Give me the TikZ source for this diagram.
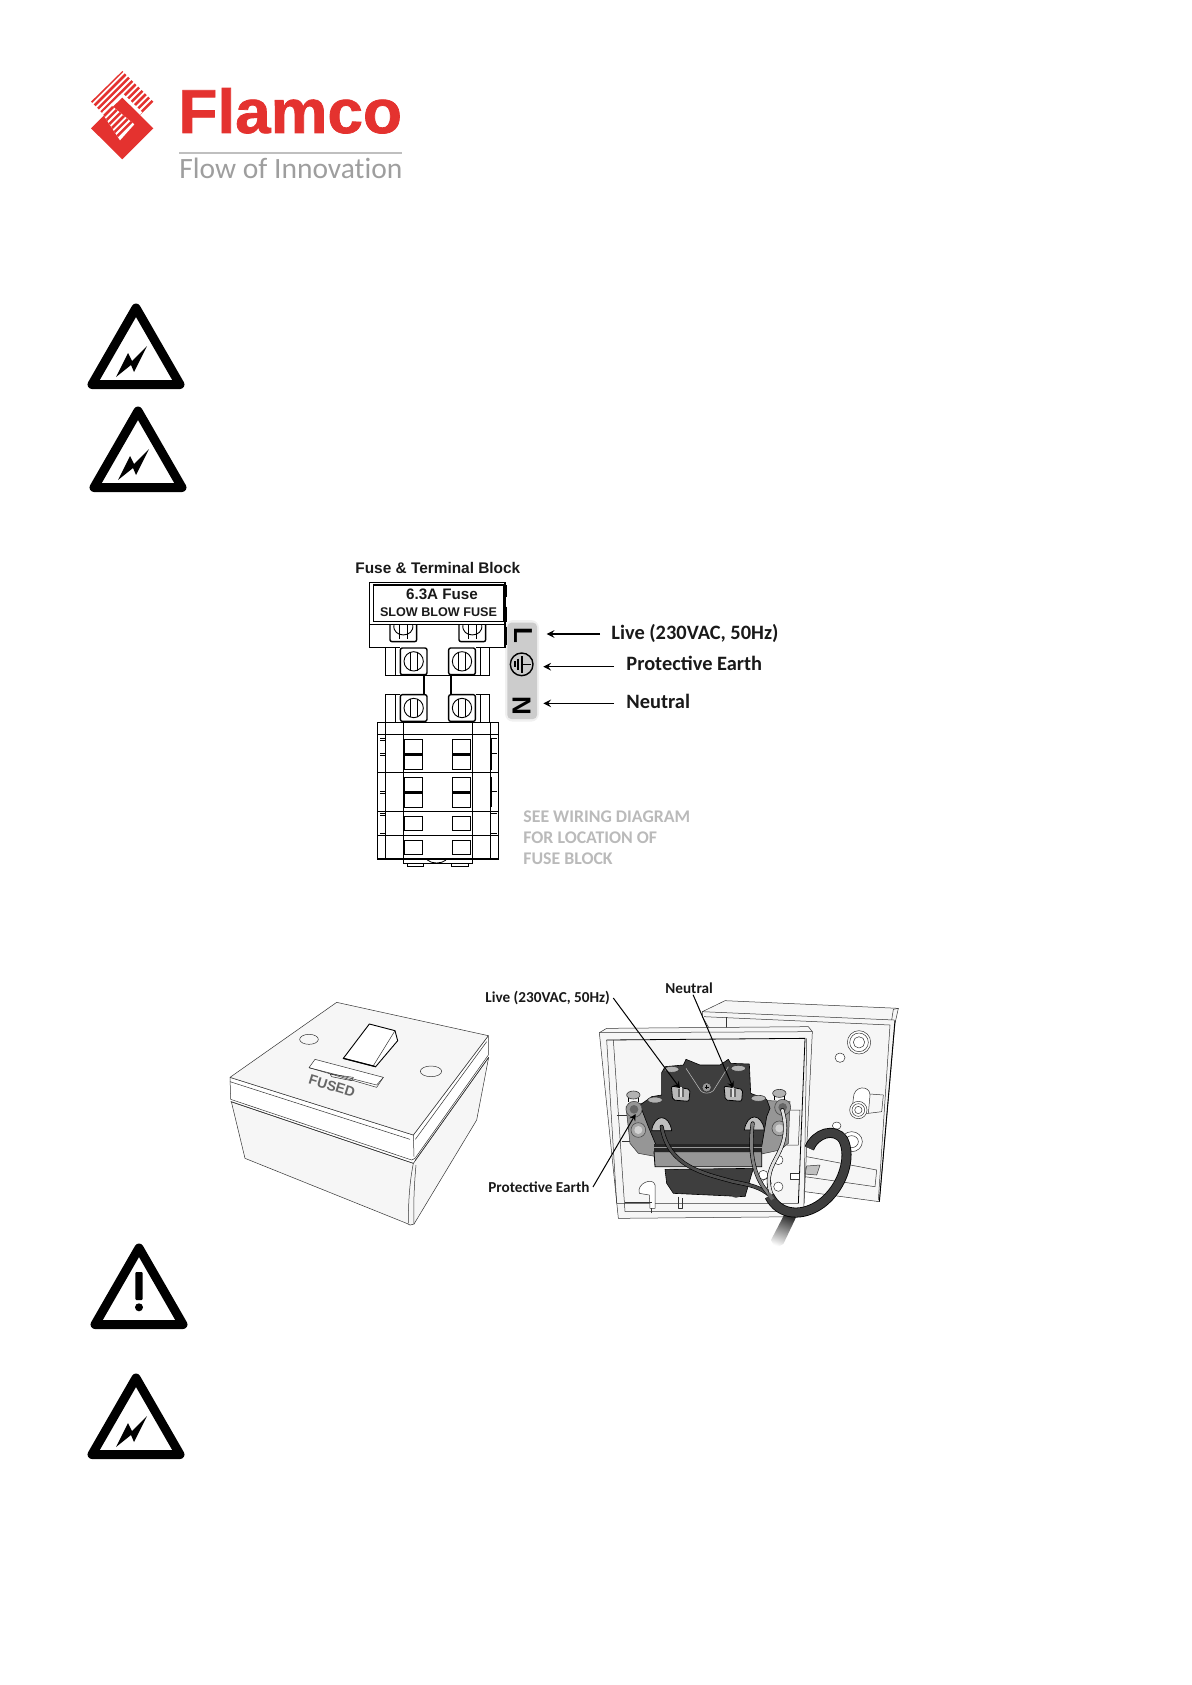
\documentclass[tikz,border=0pt]{standalone}
\usepackage{fontspec}
\usepackage{tikz}
\usetikzlibrary{arrows, calc, positioning}
\newfontfamily\lblfont{Carlito}
\newfontfamily\thinfont[Ligatures=NoCommon]{Carlito}
\newfontfamily\arialfont{Liberation Sans}
\newfontfamily\brandfont[BoldFeatures={FakeBold=1.2}]{Liberation Sans}
\definecolor{flamred}{RGB}{228,50,47}
\definecolor{bodydark}{RGB}{62,62,62}
\definecolor{facelight}{RGB}{246,246,246}
\definecolor{midgray}{RGB}{150,150,150}

\tikzset{
  zoomed/.style={x=0.16667pt, y=-0.16667pt},
  line3d/.style={draw=black!80, line width=0.25pt, line join=round},
  callout/.style={font=\lblfont\bfseries\fontsize{10.2}{12}\selectfont, inner sep=0pt, text=black!90},
  smallcall/.style={font=\lblfont\bfseries\fontsize{7.6}{9}\selectfont, inner sep=0pt, text=black!90},
  wirearrow/.style={->, >=stealth, line width=0.7pt},
  leader/.style={->, >=stealth, line width=0.5pt},
  wireline/.style={draw=black, line width=0.3pt, double distance=1.4pt, line cap=round, line join=round},
  warnline/.style={line width=4.5pt, line join=round}
}
\newcommand{\screwbox}[2]{% screw seen from the front, zoom coordinates
  \draw[line width=0.7pt, rounded corners=1pt] (#1-40,#2-40) rectangle (#1+40,#2+40);
  \draw[line width=0.45pt] (#1,#2) circle [radius=29];
  \draw[line width=0.45pt] (#1-11,#2-28) -- (#1-11,#2+28) (#1+11,#2-28) -- (#1+11,#2+28);
}
\newcommand{\ringpost}[2]{% ring of a terminal post, zoom coordinates
  \fill[midgray, draw=black!70, line width=0.3pt] (#1,#2) circle [radius=24];
  \fill[black!60] (#1,#2) circle [radius=13];
}

\begin{document}
\begin{tikzpicture}[x=0.5pt, y=-0.5pt]
\useasboundingbox (0,0) rectangle (1192,1685);

% Logo
\begin{scope}[shift={(85,65)}, zoomed]
  \begin{scope}
    \clip (112,18) -- (205,110) -- (112,205) -- (18,110) -- cycle;
    \foreach \c in {130,150,...,330}
      \draw[flamred, line width=1.25pt] (\c,0) -- (0,\c);
  \end{scope}
  \fill[white] (112,84) -- (172,142) -- (112,205) -- (52,142) -- cycle;
  \fill[flamred] (112,98) -- (205,190) -- (112,283) -- (18,190) -- (68,140) -- cycle;
  \begin{scope}
    \clip (80,122) -- (148,178) -- (105,226) -- (52,145) -- cycle;
    \fill[white] (40,100) rectangle (170,240);
    \foreach \c in {190,210,...,310}
      \draw[flamred, line width=1.25pt] (\c,0) -- (0,\c);
  \end{scope}
\end{scope}
\node[font=\brandfont\bfseries\fontsize{31}{31}\selectfont, text=flamred, anchor=base west, inner sep=0pt, xscale=1.03] (brandName) at (178,133) {Flamco};
\draw[black!25, line width=0.6pt] (179,153) -- (402,153);
\node[font=\thinfont\fontsize{14.75}{15}\selectfont, text=black!38, anchor=base west, inner sep=0pt] (brandLine) at (179,179) {Flow of Innovation};

% Warning triangles
\foreach \tx/\ty in {136/304, 138/407, 136/1374, 139/1244}
  \draw[warnline] (\tx,\ty+4) -- (\tx+44,\ty+80.5) -- (\tx-44,\ty+80.5) -- cycle;
\foreach \tx/\ty in {136/304, 138/407, 136/1374}
  \fill (\tx-20,\ty+73) -- (\tx-8,\ty+49) -- (\tx-4,\ty+57) -- (\tx+11,\ty+42) -- (\tx-2,\ty+68) -- (\tx-5,\ty+61) -- cycle;
\fill[rounded corners=0.5pt] (135.3,1272) rectangle (142.7,1300);
\fill (139,1307.3) circle [radius=4];

% Fuse and terminal block
\begin{scope}[shift={(340,550)}, zoomed]
  \fill[gray!12, rounded corners=4pt] (495,210) rectangle (597,515);
  \fill[gray!40, rounded corners=2pt] (502,218) rectangle (591,507);
  % fuse holder
  \draw[line width=0.7pt] (88,97) rectangle (495,292);
  \draw[line width=0.6pt] (100,105) rectangle (490,215);
  \draw[line width=0.5pt] (88,222) -- (495,222);
  \draw[line width=1pt] (497,105) -- (497,140) (497,170) -- (497,215) (497,230) -- (497,285);
  \foreach \sx in {190,397}{
    \draw[line width=0.7pt, rounded corners=1pt] (\sx-40,222) -- (\sx-40,275) -- (\sx+40,275) -- (\sx+40,222);
    \draw[line width=0.45pt] (\sx-28,224) .. controls (\sx-35,265) and (\sx+35,265) .. (\sx+28,224);
    \draw[line width=0.45pt] (\sx-11,224) -- (\sx-11,268) (\sx+11,224) -- (\sx+11,268);
  }
  % screw rows
  \foreach \ry in {334,474}{
    \draw[line width=0.5pt] (135,\ry-42) rectangle (448,\ry+42);
    \fill[white] (180,\ry-42) rectangle (408,\ry+42);
    \draw[line width=0.5pt] (165,\ry-42) -- (165,\ry+42) (420,\ry-42) -- (420,\ry+42);
    \screwbox{221}{\ry}
    \screwbox{366}{\ry}
  }
  \draw[line width=0.6pt] (252,376) -- (252,432) (333,376) -- (333,432);
  % lower block
  \draw[line width=0.6pt] (113,518) rectangle (475,927);
  \draw[line width=0.4pt] (113,552) -- (475,552) (113,668) -- (475,668) (113,783) -- (475,783) (113,855) -- (475,855);
  \draw[line width=0.4pt] (135,518) -- (135,927) (450,518) -- (450,927);
  \draw[line width=0.6pt] (190,518) -- (190,940) (398,518) -- (398,940);
  \foreach \wx in {193,338}{
    \foreach \wy in {567,682}{
      \draw[line width=0.5pt] (\wx,\wy) rectangle (\wx+53,\wy+91);
      \fill (\wx,\wy+41) rectangle (\wx+53,\wy+51);
    }
    \draw[line width=0.5pt] (\wx,798) rectangle (\wx+53,840);
    \draw[line width=0.5pt] (\wx,870) rectangle (\wx+53,912);
  }
  % clips at the sides of the block
  \foreach \cy in {565,610,725,790,850}{
    \draw[line width=0.4pt] (120,\cy) -- (135,\cy) (120,\cy+6) -- (135,\cy+6);
    \draw[line width=0.4pt] (450,\cy) -- (472,\cy);
  }
  \draw[line width=0.6pt] (455,565) -- (455,660) (455,680) -- (455,770);
  \draw[line width=0.5pt] (190,940) -- (398,940);
  \draw[line width=0.5pt] (203,940) rectangle (250,950) (335,940) rectangle (385,950);
  \draw[line width=0.4pt] (262,930) .. controls (275,942) and (305,942) .. (318,930);
  % symbols on the grey strip
  \node[font=\arialfont\bfseries\fontsize{13}{13}\selectfont, rotate=-90, inner sep=0pt] (markL) at (549,256) {L};
  \draw[line width=0.7pt] (545,343) circle [radius=34];
  \draw[line width=0.8pt] (572,343) -- (545,343);
  \draw[line width=0.9pt] (545,318) -- (545,368);
  \draw[line width=0.9pt] (535,326) -- (535,360);
  \draw[line width=0.9pt] (525,334) -- (525,352);
  \node[font=\arialfont\bfseries\fontsize{13}{13}\selectfont, rotate=-90, inner sep=0pt] (markN) at (545,468) {N};
  % arrow ends
  \coordinate (tipLive) at (620,252);
  \coordinate (tipEarth) at (610,350);
  \coordinate (tipNeutral) at (610,460);
\end{scope}
\node[font=\arialfont\bfseries\fontsize{7.7}{9}\selectfont, anchor=west, inner sep=0pt, text=black!90] (fuseTitle) at (355,568) {Fuse \& Terminal Block};
\node[font=\arialfont\bfseries\fontsize{7.6}{9}\selectfont, inner sep=0pt, text=black!90] (fuseRating) at (442,594) {6.3A Fuse};
\node[font=\arialfont\bfseries\fontsize{6.3}{8}\selectfont, inner sep=0pt, text=black!90] (fuseType) at (438.5,612) {SLOW BLOW FUSE};
\node[callout, anchor=west] (liveLabel) at (611,633) {Live (230VAC, 50Hz)};
\node[callout, anchor=west] (earthLabel) at (626,663) {Protective Earth};
\node[callout, anchor=west] (neutralLabel) at (626,701) {Neutral};
\draw[wirearrow, shorten <=5.5pt] (liveLabel.west |- tipLive) -- (tipLive);
\draw[wirearrow, shorten <=6pt] (earthLabel.west |- tipEarth) -- (tipEarth);
\draw[wirearrow, shorten <=6pt] (neutralLabel.west |- tipNeutral) -- (tipNeutral);
\node[font=\lblfont\bfseries\fontsize{8.9}{10.6}\selectfont, text=black!27, anchor=north west, align=left, inner sep=0pt] (fuseNote) at (523,810) {SEE WIRING DIAGRAM\\FOR LOCATION OF\\FUSE BLOCK};

% Closed switch
\begin{scope}[shift={(210,970)}, zoomed]
  \filldraw[fill=facelight, line3d] (64,395) -- (610,580) -- (836,262) -- (800,450) -- (612,762) .. controls (605,768) and (595,765) .. (590,760) -- (105,565) -- cycle;
  \draw[line3d] (610,580) .. controls (598,640) and (595,700) .. (595,760);
  \draw[line3d] (618,585) .. controls (612,650) and (610,710) .. (612,762);
  \filldraw[fill=white, line3d] (60,322) -- (62,388) -- (605,570) -- (615,565) -- (835,255) -- (835,197) -- (610,495) -- cycle;
  \draw[line3d] (62,395) -- (610,580) (615,572) -- (836,262);
  \draw[line3d] (610,495) -- (612,560);
  \draw[line3d] (60,335) -- (600,508) (616,508) -- (830,215);
  \filldraw[fill=facelight, line3d] (380,97) -- (835,197) -- (610,495) -- (60,322) -- cycle;
  % rocker
  \filldraw[fill=white, line width=0.45pt] (478,162) -- (555,182) -- (563,212) -- (497,290) -- (400,265) -- cycle;
  \draw[line3d] (555,182) -- (490,287);
  \draw[line width=0.6pt] (400,265) -- (497,290);
  % neon bar
  \filldraw[fill=white, line3d] (315,268) -- (520,322) -- (500,352) -- (297,293) -- cycle;
  \draw[line3d] (297,293) -- (500,345) -- (520,322);
  \draw[line3d] (360,312) -- (430,322) -- (425,332) -- (365,320) -- cycle;
  \node[font=\arialfont\bfseries\fontsize{7}{7}\selectfont, rotate=-17, inner sep=0pt, text=black!60] (fusedMark) at (366,348) {FUSED};
  \draw[line3d] (297,208) ellipse [x radius=28, y radius=15];
  \draw[line3d] (663,304) ellipse [x radius=32, y radius=16];
\end{scope}

% Open switch, rear plate
\begin{scope}[shift={(470,970)}, zoomed]
  \filldraw[fill=facelight, line3d] (697,125) -- (765,92) -- (1285,115) -- (1275,160) -- (1228,695) -- (1005,665) -- (697,140) -- cycle;
  \draw[line3d] (697,125) -- (1272,150) (702,140) -- (1260,165) -- (1225,690);
  \draw[line3d] (1270,118) -- (1285,115) (1270,118) -- (1265,150);
  \draw[line width=0.45pt] (1275,150) -- (1228,695);
  \draw[line3d] (770,142) -- (770,175);
  % posts on the plate
  \draw[line3d, fill=white] (1167,217) circle [radius=35];
  \draw[line3d] (1167,217) circle [radius=28] (1167,217) circle [radius=17];
  \draw[line3d, fill=white] (1110,263) ellipse [x radius=15, y radius=14];
  \draw[line3d, fill=white] (1150,385) .. controls (1150,345) and (1200,345) .. (1200,375) -- (1195,430) -- (1145,430) -- cycle;
  \draw[line3d] (1200,372) -- (1240,375) -- (1235,425) -- (1195,430);
  \draw[line3d, fill=white] (1165,420) circle [radius=26];
  \draw[line3d] (1165,420) circle [radius=19] (1165,420) circle [radius=11];
  \draw[line3d, fill=white] (1100,467) ellipse [x radius=13, y radius=11];
  \draw[line3d, fill=white] (1145,515) ellipse [x radius=32, y radius=30];
  \draw[line3d] (1145,515) ellipse [x radius=20, y radius=18];
  \draw[line3d] (1010,560) -- (1220,600) -- (1215,650) -- (1005,620);
  \filldraw[fill=midgray!60, line3d] (1010,588) -- (1050,585) -- (1040,615) -- (1005,612) -- cycle;
  % front plate
  \filldraw[fill=facelight, line3d] (388,188) -- (410,175) -- (1015,170) -- (1027,185) -- (1000,740) -- (445,745) -- cycle;
  \draw[line3d] (388,188) -- (1027,185);
  \draw[line width=0.4pt] (410,210) -- (1005,205) -- (985,700);
  \draw[line3d] (410,210) -- (440,700) -- (985,700);
  \draw[line3d] (430,210) -- (465,725) -- (990,725);
  \draw[line3d] (1010,205) -- (1002,700);
  \draw[line3d, fill=white] (960,610) rectangle (988,628);
\end{scope}

% Open switch, body and wires
\begin{scope}[shift={(610,1050)}, zoomed]
  \draw[line3d] (20,195) -- (55,195) (35,275) -- (60,275);
  \draw[line3d] (530,180) -- (570,180) -- (565,285) -- (530,285);
  \filldraw[fill=white, line3d] (88,430) .. controls (78,400) and (130,380) .. (135,405) -- (135,475) -- (120,475) -- (118,435) -- cycle;
  \draw[line3d] (45,458) -- (125,458) (125,490) -- (125,475) (205,440) -- (205,475) -- (218,475) -- (218,445);
  \draw[line3d, fill=white] (460,375) circle [radius=14] (505,330) circle [radius=14] (470,400) circle [radius=14] (505,410) circle [radius=14];
  % earth plate
  \filldraw[fill=midgray, line3d] (48,170) -- (140,150) -- (140,320) -- (85,310) -- (60,280) -- cycle;
  \filldraw[fill=midgray, line3d] (440,150) -- (540,155) -- (535,280) -- (510,300) -- (440,315) -- cycle;
  % body
  \filldraw[fill=bodydark, draw=black, line width=0.3pt, line join=round] (155,68) -- (165,50) -- (220,45) -- (228,28) -- (270,45) -- (330,45) -- (355,28) -- (362,40) -- (418,42) -- (422,130) -- (470,148) -- (480,175) -- (470,200) -- (455,290) -- (140,290) -- (115,230) -- (90,165) -- (125,140) -- (155,135) -- cycle;
  \filldraw[fill=midgray, draw=black, line width=0.4pt] (132,305) -- (455,305) -- (455,350) -- (135,350) -- cycle;
  \fill[black!85] (133,283) -- (456,283) -- (456,305) -- (133,305) -- cycle;
  \draw[black!40, line width=0.3pt] (133,292) -- (456,292);
  \filldraw[fill=bodydark, draw=black, line width=0.3pt, line join=round] (165,358) -- (430,355) -- (405,440) -- (190,430) -- (170,400) -- cycle;
  \fill[black!75] (378,436) ellipse [x radius=13, y radius=7];
  \draw[white!70!black, line width=0.3pt] (228,55) -- (272,122) .. controls (280,132) and (300,132) .. (310,122) -- (355,50);
  \filldraw[fill=midgray, draw=black!80, line width=0.3pt] (290,112) circle [radius=14];
  \draw[line width=0.4pt] (284,112) -- (296,112) (290,106) -- (290,118);
  % screws on the body
  \foreach \bx/\by in {185/58, 385/55, 135/150, 445/145}
    \filldraw[fill=gray!60, draw=black!80, line width=0.3pt] (\bx,\by) ellipse [x radius=22, y radius=9];
  \foreach \bx/\by in {212/130, 370/130}{
    \filldraw[fill=gray!55, draw=black, line width=0.4pt, rounded corners=1pt] (\bx-28,\by-22) -- (\bx+28,\by-12) -- (\bx+25,\by+24) -- (\bx-24,\by+20) -- cycle;
    \fill[black!60] (\bx-9,\by-12) rectangle (\bx+9,\by+12);
    \fill[gray!25] (\bx-3,\by-18) rectangle (\bx+3,\by+10);
  }
  \foreach \bx/\by in {155/220, 433/218}{
    \filldraw[fill=gray!50, draw=black, line width=0.35pt] (\bx-30,\by+22) .. controls (\bx-22,\by-30) and (\bx+22,\by-30) .. (\bx+30,\by+22) -- cycle;
  }
  % earth posts
  \ringpost{72}{178}
  \ringpost{518}{172}
  \foreach \bx/\by in {85/240, 508/235}{
    \filldraw[fill=gray!70, draw=black!70, line width=0.3pt] (\bx,\by) circle [radius=22];
    \fill[gray!35] (\bx,\by) circle [radius=12];
  }
  \foreach \bx/\by in {70/135, 508/130}{
    \filldraw[fill=gray!60, draw=black!80, line width=0.3pt] (\bx,\by) ellipse [x radius=20, y radius=12];
    \draw[line width=0.3pt] (\bx-14,\by+8) -- (\bx-14,\by+20) (\bx+14,\by+8) -- (\bx+14,\by+20);
  }
  % wires
  \draw[wireline, double=black!70] (155,230) .. controls (175,350) and (280,370) .. (370,395) .. controls (420,405) and (450,410) .. (482,438);
  \draw[wireline, double=black!50] (428,220) .. controls (415,320) and (435,390) .. (482,438);
  \draw[wireline, double=black!12] (517,180) .. controls (540,260) and (510,300) .. (490,340) .. controls (470,380) and (475,410) .. (485,435);
\end{scope}

% Mains cable
\begin{scope}[shift={(760,990)}, zoomed]
  \shade[top color=black!80, bottom color=white, shading angle=-20] (72,675) -- (108,682) -- (70,762) -- (45,775) -- (33,750) -- cycle;
  \draw[draw=black, line width=0.4pt, double=bodydark, double distance=4.2pt] (28,618) .. controls (60,680) and (130,680) .. (185,640) .. controls (250,590) and (275,500) .. (250,450) .. controls (225,410) and (165,430) .. (148,475);
  \draw[black!60, line width=1.8pt] (25,610) -- (38,628);
\end{scope}

% Leader lines and their labels
\begin{scope}[shift={(470,970)}, zoomed]
  \coordinate (leadLive) at (630,355);
  \coordinate (leadNeutral) at (790,355);
  \coordinate (leadEarth) at (497,432);
\end{scope}
\node[smallcall, anchor=west] (liveSwitch) at (485,998) {Live (230VAC, 50Hz)};
\node[smallcall, anchor=west] (neutralSwitch) at (665,988) {Neutral};
\node[smallcall, anchor=west] (earthSwitch) at (488,1187) {Protective Earth};
\draw[leader] (liveSwitch.east) ++(1.5pt,0) -- (leadLive);
\draw[leader] (neutralSwitch.south) ++(2pt,-0.5pt) -- (leadNeutral);
\draw[leader] (earthSwitch.east) ++(1.5pt,0) -- (leadEarth);
\end{tikzpicture}
\end{document}
